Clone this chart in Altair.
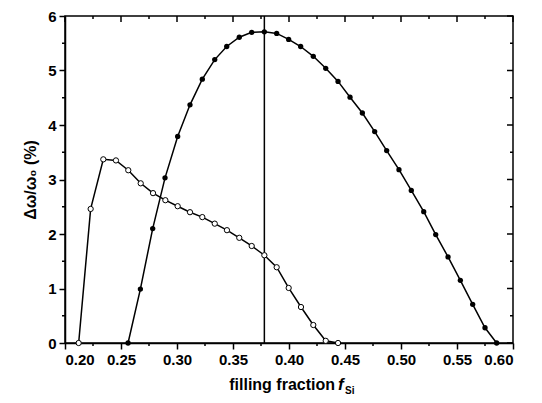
import altair as alt
import pandas as pd

# ---- data ----
filled_f = [0.2563, 0.2673, 0.2783, 0.2893, 0.3006, 0.3116, 0.3226, 0.3337, 0.3444, 0.3556,
            0.3667, 0.3780, 0.3890, 0.3997, 0.4104, 0.4217, 0.4328, 0.4438, 0.4545, 0.4655,
            0.4765, 0.4872, 0.4982, 0.5092, 0.5203, 0.5310, 0.5420, 0.5530, 0.5640, 0.5750, 0.5854]
filled_v = [0.00, 0.99, 2.10, 3.03, 3.79, 4.37, 4.84, 5.20, 5.44, 5.61,
            5.70, 5.71, 5.68, 5.57, 5.44, 5.26, 5.04, 4.80, 4.51, 4.22,
            3.88, 3.53, 3.18, 2.80, 2.41, 1.99, 1.58, 1.15, 0.71, 0.28, 0.00]

open_f = [0.2122, 0.2229, 0.2342, 0.2455, 0.2565, 0.2676, 0.2786, 0.2896, 0.3006, 0.3116,
          0.3226, 0.3337, 0.3446, 0.3556, 0.3667, 0.3780, 0.3890, 0.3997, 0.4107, 0.4217,
          0.4328, 0.4438]
open_v = [0.00, 2.46, 3.37, 3.35, 3.17, 2.93, 2.75, 2.62, 2.51, 2.40,
          2.31, 2.19, 2.07, 1.93, 1.78, 1.61, 1.39, 1.01, 0.66, 0.33,
          0.04, 0.00]

marker_f = [0.378]

x_major = [0.20, 0.25, 0.30, 0.35, 0.40, 0.45, 0.50, 0.55, 0.60]
x_minor = [0.225, 0.275, 0.325, 0.375, 0.425, 0.475, 0.525, 0.575]
y_major = [0, 1, 2, 3, 4, 5, 6]
y_minor = [0.5, 1.5, 2.5, 3.5, 4.5, 5.5]

W, H = 448, 327
FONT = "Liberation Sans"

x_scale = alt.Scale(domain=[0.2, 0.6], nice=False, zero=False)
y_scale = alt.Scale(domain=[0, 6], nice=False, zero=False)

x_enc = alt.X("f:Q", scale=x_scale,
              axis=alt.Axis(values=x_major, format=".2f", title=None))
y_enc = alt.Y("v:Q", scale=y_scale,
              axis=alt.Axis(values=y_major, format="d", title="Δω/ω₀ (%)",
                            titlePadding=9, titleFontSize=16))

df_f = pd.DataFrame({"f": filled_f, "v": filled_v})
df_o = pd.DataFrame({"f": open_f, "v": open_v})

open_line = alt.Chart(df_o).mark_line(color="black", strokeWidth=1.5).encode(x=x_enc, y=y_enc)
filled_line = alt.Chart(df_f).mark_line(color="black", strokeWidth=1.5).encode(x=x_enc, y=y_enc)

vline = alt.Chart(pd.DataFrame({"f": marker_f})).mark_rule(color="black", strokeWidth=1.5).encode(
    x=alt.X("f:Q"), y=alt.value(0), y2=alt.value(H))

open_pts = alt.Chart(df_o).mark_point(shape="circle", filled=True, fill="white", stroke="black",
                                      strokeWidth=1, size=28, opacity=1).encode(x="f:Q", y="v:Q")
filled_pts = alt.Chart(df_f).mark_point(shape="circle", filled=True, color="black",
                                        size=28, opacity=1).encode(x="f:Q", y="v:Q")

dx_maj = pd.DataFrame({"f": x_major})
dx_min = pd.DataFrame({"f": x_minor})
dy_maj = pd.DataFrame({"v": y_major})
dy_min = pd.DataFrame({"v": y_minor})

tick_style = dict(color="black", strokeWidth=1.5)
bottom_minor = alt.Chart(dx_min).mark_rule(**tick_style).encode(
    x="f:Q", y=alt.value(H), y2=alt.value(H + 3))
top_major = alt.Chart(dx_maj).mark_rule(**tick_style).encode(
    x="f:Q", y=alt.value(0), y2=alt.value(6))
top_minor = alt.Chart(dx_min).mark_rule(**tick_style).encode(
    x="f:Q", y=alt.value(0), y2=alt.value(3))
left_minor = alt.Chart(dy_min).mark_rule(**tick_style).encode(
    y="v:Q", x=alt.value(0), x2=alt.value(-3))
right_major = alt.Chart(dy_maj).mark_rule(**tick_style).encode(
    y="v:Q", x=alt.value(W), x2=alt.value(W - 6))
right_minor = alt.Chart(dy_min).mark_rule(**tick_style).encode(
    y="v:Q", x=alt.value(W), x2=alt.value(W - 3))

t1 = alt.Chart(pd.DataFrame({"t": ["filling fraction"]})).mark_text(
    font=FONT, fontWeight="bold", fontSize=16, align="right", baseline="alphabetic", color="black"
).encode(text="t:N", x=alt.value(270), y=alt.value(374))
t2 = alt.Chart(pd.DataFrame({"t": ["f"]})).mark_text(
    font=FONT, fontWeight="bold", fontStyle="italic", fontSize=17, align="left",
    baseline="alphabetic", color="black"
).encode(text="t:N", x=alt.value(273), y=alt.value(374))
t3 = alt.Chart(pd.DataFrame({"t": ["Si"]})).mark_text(
    font=FONT, fontWeight="bold", fontSize=10, align="left", baseline="alphabetic", color="black"
).encode(text="t:N", x=alt.value(280), y=alt.value(378))

chart = alt.layer(
    open_line, filled_line, vline, open_pts, filled_pts,
    bottom_minor, top_major, top_minor, left_minor, right_major, right_minor,
    t1, t2, t3
).properties(
    width=W, height=H,
    padding={"left": 57, "top": 8, "right": 20, "bottom": 52},
    autosize=alt.AutoSizeParams(type="none"),
).configure_view(
    stroke="black", strokeWidth=1.5
).configure_axis(
    grid=False, domainColor="black", domainWidth=1.5, tickColor="black", tickWidth=1.5,
    tickSize=6, labelFont=FONT, labelFontWeight="bold", labelFontSize=15, labelColor="black",
    labelPadding=3, titleFont=FONT, titleFontWeight="bold", titleFontSize=16, titleColor="black"
)

chart.save("out.html", embed_options={"renderer": "svg", "actions": False})
